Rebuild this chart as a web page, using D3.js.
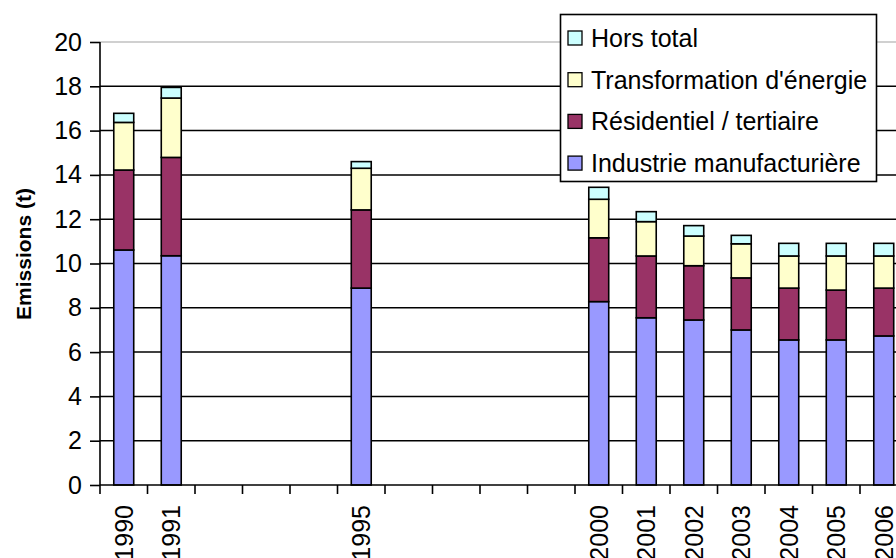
<!DOCTYPE html>
<html><head><meta charset="utf-8">
<script src="https://cdn.jsdelivr.net/npm/d3@7"></script>
<style>body{margin:0;background:#fff}svg{display:block}text{font-family:"Liberation Sans",Arial,sans-serif}</style>
</head><body>
<svg id="c" width="896" height="558"></svg>
<script>
const years = [1990,1991,1992,1993,1994,1995,1996,1997,1998,1999,2000,2001,2002,2003,2004,2005,2006];
const dataYears = [1990,1991,1995,2000,2001,2002,2003,2004,2005,2006];
const industrie = [10.61,10.35,8.89,8.28,7.55,7.45,7.00,6.55,6.55,6.73];
const residentiel = [3.61,4.44,3.53,2.88,2.79,2.45,2.35,2.34,2.25,2.16];
const transformation = [2.15,2.68,1.88,1.74,1.55,1.34,1.54,1.45,1.54,1.45];
const horsTotal = [0.41,0.48,0.30,0.54,0.45,0.47,0.38,0.57,0.57,0.57];
const seriesNames = ["Industrie manufacturière","Résidentiel / tertiaire","Transformation d'énergie","Hors total"];
const seriesColors = ["#9999FF","#993366","#FFFFCC","#CCFFFF"];
const yTicks = [0,2,4,6,8,10,12,14,16,18,20];

(function(){
const svg = d3.select("#c");
const pLeft = 100, pTop = 42, pBottom = 485;
const x = d3.scaleBand().domain(years).range([pLeft, pLeft + 17*47.5]).padding(0);
const y = d3.scaleLinear().domain([0,20]).range([pBottom, pTop]);

// gridlines
svg.append("g").selectAll("line").data(yTicks.filter(d=>d>0)).join("line")
  .attr("x1", pLeft).attr("x2", 896)
  .attr("y1", d=>y(d)).attr("y2", d=>y(d))
  .attr("stroke", d=> d===20 ? "#c0c0c0" : "#000").attr("stroke-width", d=> d===20?1.5:1.5);

// stacked data
const rows = dataYears.map((yr,i)=>({year:yr, s0:industrie[i], s1:residentiel[i], s2:transformation[i], s3:horsTotal[i]}));
const stack = d3.stack().keys(["s0","s1","s2","s3"])(rows);
const bw = x.bandwidth()*0.42;
svg.append("g").selectAll("g").data(stack).join("g")
  .attr("fill", (d,i)=>seriesColors[i])
  .selectAll("rect").data(d=>d).join("rect")
  .attr("x", d=> x(d.data.year) + (x.bandwidth()-bw)/2)
  .attr("width", bw)
  .attr("y", d=> y(d[1]))
  .attr("height", d=> y(d[0]) - y(d[1]))
  .attr("stroke", "#000").attr("stroke-width", 1.6);

// y axis
const yAxis = svg.append("g").attr("transform", `translate(${pLeft},0)`)
  .call(d3.axisLeft(y).tickValues(yTicks).tickSize(10).tickPadding(8));
yAxis.select(".domain").attr("stroke","#000").attr("stroke-width",1.6).attr("d", `M-0,${y(20)}V${pBottom}`);
yAxis.selectAll(".tick line").attr("stroke","#000").attr("stroke-width",1.6);
yAxis.selectAll(".tick text").attr("font-size", 25).attr("fill","#000")
  .attr("font-family",'"Liberation Sans",Arial,sans-serif');

// x axis
const xg = svg.append("g");
xg.append("line").attr("x1", pLeft).attr("x2", 896).attr("y1", pBottom).attr("y2", pBottom)
  .attr("stroke","#000").attr("stroke-width",1.6);
xg.selectAll("line.t").data(years.concat([null])).join("line").attr("class","t")
  .attr("x1", d=> d===null ? x.range()[1] : x(d)).attr("x2", d=> d===null ? x.range()[1] : x(d))
  .attr("y1", pBottom).attr("y2", pBottom+9).attr("stroke","#000").attr("stroke-width",1.6);
xg.selectAll("text").data(dataYears).join("text")
  .attr("transform", d=>`translate(${x(d)+x.bandwidth()/2},505) rotate(-90)`)
  .attr("text-anchor","end").attr("dy","0.36em")
  .attr("font-size",25).attr("fill","#000").text(d=>d);

// y title
svg.append("text").attr("transform","translate(23,254) rotate(-90)")
  .attr("text-anchor","middle").attr("dy","0.36em")
  .attr("font-size",21).attr("font-weight","bold").text("Emissions (t)");

// legend
const lg = svg.append("g");
lg.append("rect").attr("x",560.5).attr("y",14.5).attr("width",316).attr("height",167)
  .attr("fill","#fff").attr("stroke","#000").attr("stroke-width",1.6);
const legendOrder = [3,2,1,0];
legendOrder.forEach((si,k)=>{
  const cy = 38 + k*41.7;
  lg.append("rect").attr("x",568).attr("y",cy-7).attr("width",14).attr("height",14)
    .attr("fill",seriesColors[si]).attr("stroke","#000").attr("stroke-width",1.3);
  lg.append("text").attr("x",591).attr("y",cy).attr("dy","0.36em")
    .attr("font-size",25).attr("fill","#000").text(seriesNames[si]);
});
})();
</script>
</body></html>
